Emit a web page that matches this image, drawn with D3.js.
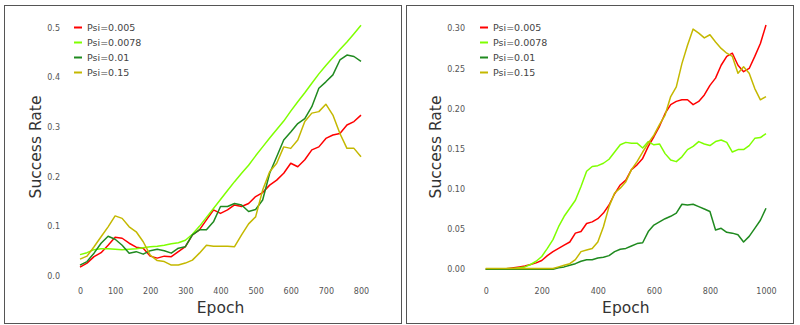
<!DOCTYPE html>
<html>
<head>
<meta charset="utf-8">
<script src="https://cdn.jsdelivr.net/npm/d3@7"></script>
<style>
  body { margin: 0; background: #fff; }
  svg { display: block; font-family: 'DejaVu Sans', sans-serif; }
</style>
</head>
<body>
<div id="chart"></div>
<script>
// legend labels, one per series
const seriesNames = ['Psi=0.005', 'Psi=0.0078', 'Psi=0.01', 'Psi=0.15'];
const seriesColors = ['#ff0000', '#7fff00', '#1f8a1f', '#c4b800'];

// left panel: epochs 0..800
const leftEpochs = [0, 20, 40, 60, 80, 100, 120, 140, 160, 180, 200, 220, 240, 260, 280, 300, 320, 340, 360, 380,
  400, 420, 440, 460, 480, 500, 520, 540, 560, 580, 600, 620, 640, 660, 680, 700, 720, 740, 760, 780, 800];
const leftPsi005 = [0.018, 0.026, 0.039, 0.047, 0.062, 0.078, 0.076, 0.066, 0.058, 0.056, 0.04, 0.036, 0.04, 0.039,
  0.049, 0.059, 0.083, 0.093, 0.113, 0.133, 0.126, 0.133, 0.143, 0.14, 0.146, 0.16, 0.168, 0.183, 0.193, 0.207,
  0.227, 0.22, 0.234, 0.254, 0.26, 0.277, 0.284, 0.287, 0.304, 0.311, 0.324];
const leftPsi0078 = [0.043, 0.047, 0.053, 0.055, 0.055, 0.054, 0.053, 0.054, 0.055, 0.057, 0.059, 0.06, 0.062, 0.065,
  0.067, 0.072, 0.084, 0.1, 0.118, 0.136, 0.154, 0.172, 0.19, 0.207, 0.223, 0.242, 0.26, 0.278, 0.295, 0.312,
  0.332, 0.351, 0.369, 0.388, 0.407, 0.424, 0.44, 0.456, 0.471, 0.488, 0.505];
const leftPsi01 = [0.022, 0.029, 0.046, 0.066, 0.08, 0.074, 0.062, 0.046, 0.049, 0.044, 0.051, 0.054, 0.051, 0.046,
  0.056, 0.059, 0.083, 0.093, 0.093, 0.109, 0.14, 0.14, 0.146, 0.143, 0.13, 0.134, 0.153, 0.207, 0.24, 0.274,
  0.29, 0.307, 0.317, 0.341, 0.378, 0.391, 0.405, 0.435, 0.445, 0.442, 0.432];
const leftPsi15 = [0.034, 0.04, 0.059, 0.079, 0.099, 0.121, 0.116, 0.099, 0.089, 0.069, 0.042, 0.031, 0.029, 0.022,
  0.022, 0.026, 0.032, 0.046, 0.062, 0.06, 0.06, 0.06, 0.059, 0.083, 0.105, 0.119, 0.173, 0.21, 0.227, 0.26,
  0.257, 0.274, 0.311, 0.328, 0.331, 0.346, 0.324, 0.287, 0.257, 0.257, 0.24];
const leftYTicks = [0.0, 0.1, 0.2, 0.3, 0.4, 0.5];
const leftXTicks = [0, 100, 200, 300, 400, 500, 600, 700, 800];

// right panel: epochs 0..1000
const rightEpochs = [0, 20, 40, 60, 80, 100, 120, 140, 160, 180, 200, 220, 240, 260, 280, 300, 320, 340, 360, 380,
  400, 420, 440, 460, 480, 500, 520, 540, 560, 580, 600, 620, 640, 660, 680, 700, 720, 740, 760, 780, 800,
  820, 840, 860, 880, 900, 920, 940, 960, 980, 1000];
const rightPsi005 = [0, 0, 0, 0, 0.001, 0.002, 0.003, 0.004, 0.006, 0.008, 0.011, 0.017, 0.022, 0.026, 0.03, 0.034,
  0.045, 0.047, 0.057, 0.059, 0.063, 0.07, 0.08, 0.094, 0.105, 0.111, 0.124, 0.13, 0.138, 0.153, 0.165, 0.178,
  0.194, 0.205, 0.209, 0.211, 0.211, 0.205, 0.209, 0.217, 0.229, 0.238, 0.254, 0.265, 0.269, 0.254, 0.246, 0.25,
  0.265, 0.281, 0.304];
const rightPsi0078 = [0, 0, 0, 0, 0.001, 0.001, 0.002, 0.003, 0.006, 0.01, 0.016, 0.026, 0.037, 0.053, 0.066, 0.076,
  0.086, 0.103, 0.122, 0.128, 0.129, 0.132, 0.137, 0.146, 0.155, 0.158, 0.157, 0.157, 0.151, 0.159, 0.155, 0.156,
  0.144, 0.136, 0.134, 0.14, 0.149, 0.153, 0.159, 0.156, 0.154, 0.159, 0.161, 0.158, 0.146, 0.149, 0.149, 0.154,
  0.163, 0.164, 0.169];
const rightPsi01 = [0, 0, 0, 0, 0, 0, 0, 0, 0, 0, 0, 0, 0, 0.002, 0.003, 0.005, 0.007, 0.01, 0.012, 0.012, 0.014,
  0.015, 0.017, 0.022, 0.025, 0.026, 0.029, 0.032, 0.033, 0.047, 0.055, 0.059, 0.063, 0.066, 0.07, 0.081, 0.08,
  0.081, 0.078, 0.075, 0.072, 0.049, 0.051, 0.046, 0.045, 0.043, 0.034, 0.041, 0.051, 0.061, 0.076];
const rightPsi15 = [0.001, 0.001, 0.001, 0.001, 0.001, 0.001, 0.001, 0.001, 0.001, 0.001, 0.001, 0.001, 0.001,
  0.003, 0.005, 0.007, 0.012, 0.022, 0.024, 0.026, 0.034, 0.053, 0.078, 0.095, 0.101, 0.109, 0.124, 0.134, 0.146,
  0.157, 0.167, 0.18, 0.192, 0.215, 0.227, 0.256, 0.279, 0.299, 0.294, 0.288, 0.292, 0.283, 0.275, 0.269, 0.265,
  0.244, 0.252, 0.244, 0.225, 0.211, 0.215];
const rightYTicks = [0.0, 0.05, 0.1, 0.15, 0.2, 0.25, 0.3];
const rightXTicks = [0, 200, 400, 600, 800, 1000];

const width = 800, height = 325;
const svg = d3.select('#chart').append('svg')
  .attr('width', width)
  .attr('height', height);

function drawPanel(p) {
  // frame round the whole panel
  svg.append('rect')
    .attr('x', p.box[0] + 0.5).attr('y', p.box[1] + 0.5)
    .attr('width', p.box[2]).attr('height', p.box[3])
    .attr('fill', 'none')
    .attr('stroke', '#555')
    .attr('stroke-width', 1);

  const x = d3.scaleLinear().domain(p.xDomain).range(p.xRange);
  const y = d3.scaleLinear().domain(p.yDomain).range(p.yRange);

  const g = svg.append('g');

  g.append('g')
    .attr('transform', 'translate(' + p.yLabelX + ',0)')
    .call(d3.axisLeft(y).tickValues(p.yTicks).tickSize(0).tickPadding(0).tickFormat(d3.format(p.yFormat)))
    .call(a => a.select('.domain').remove())
    .call(a => a.selectAll('text')
      .attr('fill', '#555')
      .style('font-size', '8px')
      .style('font-family', "'DejaVu Sans', sans-serif"));

  g.append('g')
    .attr('transform', 'translate(0,' + 288 + ')')
    .call(d3.axisBottom(x).tickValues(p.xTicks).tickSize(0).tickPadding(0).tickFormat(d3.format('d')))
    .call(a => a.select('.domain').remove())
    .call(a => a.selectAll('text')
      .attr('fill', '#555')
      .style('font-size', '8px')
      .style('font-family', "'DejaVu Sans', sans-serif"));

  g.append('text')
    .attr('x', (p.xRange[0] + p.xRange[1]) / 2)
    .attr('y', 313)
    .attr('text-anchor', 'middle')
    .attr('fill', '#333')
    .style('font-size', '15.5px')
    .text('Epoch');

  g.append('text')
    .attr('transform', 'translate(' + (p.titleX) + ',147) rotate(-90)')
    .attr('text-anchor', 'middle')
    .attr('fill', '#333')
    .style('font-size', '15.5px')
    .text('Success Rate');

  const line = d3.line()
    .x((d, i) => x(p.epochs[i]))
    .y(d => y(d));

  p.series.forEach((s, i) => {
    g.append('path')
      .datum(s)
      .attr('fill', 'none')
      .attr('stroke', seriesColors[i])
      .attr('stroke-width', 1.5)
      .attr('stroke-linejoin', 'round')
      .attr('d', line);
  });

  const legend = g.append('g');
  seriesNames.forEach((name, i) => {
    const ly = 27.5 + i * 15;
    legend.append('line')
      .attr('x1', p.legendX).attr('x2', p.legendX + 8)
      .attr('y1', ly).attr('y2', ly)
      .attr('stroke', seriesColors[i])
      .attr('stroke-width', 2);
    legend.append('text')
      .attr('x', p.legendX + 13)
      .attr('y', ly + 3.5)
      .attr('fill', '#444')
      .style('font-size', '9.5px')
      .text(name);
  });
}

drawPanel({
  box: [4, 5, 397, 318],
  xDomain: [0, 800], xRange: [80, 361],
  yDomain: [0, 0.5], yRange: [276, 27.7],
  yTicks: leftYTicks, xTicks: leftXTicks, yFormat: '.1f',
  yLabelX: 60, titleX: 41, legendX: 74,
  epochs: leftEpochs,
  series: [leftPsi005, leftPsi0078, leftPsi01, leftPsi15]
});

drawPanel({
  box: [406, 5, 387, 318],
  xDomain: [0, 1000], xRange: [485.7, 766],
  yDomain: [0, 0.3], yRange: [269.3, 28.3],
  yTicks: rightYTicks, xTicks: rightXTicks, yFormat: '.2f',
  yLabelX: 465, titleX: 441, legendX: 480,
  epochs: rightEpochs,
  series: [rightPsi005, rightPsi0078, rightPsi01, rightPsi15]
});
</script>
</body>
</html>
